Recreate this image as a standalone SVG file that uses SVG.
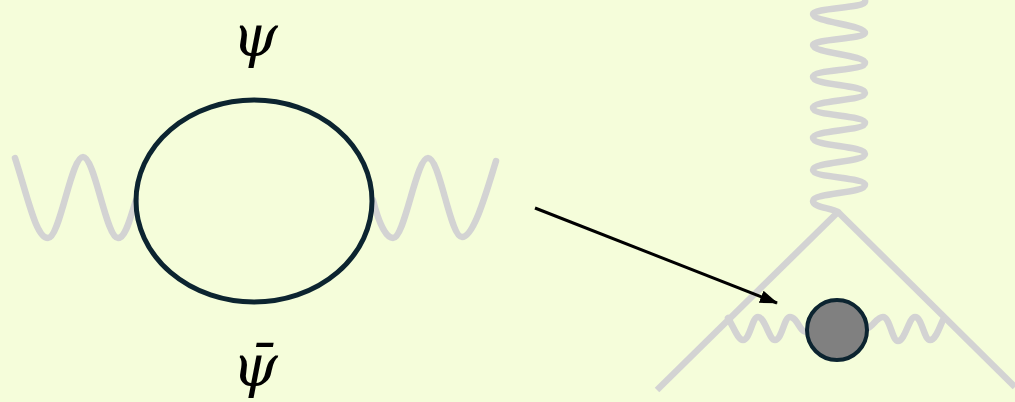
<svg xmlns="http://www.w3.org/2000/svg" width="1015" height="402" viewBox="0 0 1015 402">
<style>
.wave{fill:none;stroke:#D3D3D3;stroke-width:6.5;stroke-linecap:round;stroke-linejoin:round}
.line{fill:none;stroke:#D3D3D3;stroke-width:6.5}
.loop{fill:none;stroke:#0C2430;stroke-width:5}
.lbl{font-family:"DejaVu Serif","Liberation Serif",serif;font-style:italic;font-size:58px;fill:#000;text-anchor:middle}
</style>
<defs>
<marker id="ah" markerWidth="18" markerHeight="13" refX="17" refY="6.5" orient="auto" markerUnits="userSpaceOnUse">
<path d="M0,0 L18,6.5 L0,13 z" fill="#000"/>
</marker>
</defs>
<rect width="1015" height="402" fill="#F5FDDA"/>
<g id="connectors">
<path id="wave-left" class="wave" d="M15,158 C28,198 36,238 48,238 C60,238 71,157 83,157 C95,157 106,238 118,238 C126,238 131,215 136,200"/>
<path id="wave-right" class="wave" d="M373,200 C378,220 385,238 393,238 C405,238 416,158 428,158 C440,158 450,237 462,237 C474,237 487,190 496,161"/>
<path id="spring-top" class="wave" d="M862,-4 C866,-2 865,2 865,2 C865,8 813,8 813,14 C813,22 865,25 865,33 C865,39 813,39 813,45 C813,53 865,55 865,63 C865,71 813,69 813,77 C813,85 865,85 865,93 C865,101 813,100 813,108 C813,116 865,115 865,123 C865,131 813,130 813,138 C813,146 865,146 865,154 C865,162 813,162 813,170 C813,178 865,177 865,185 C865,193 813,193 813,201 C813,207 830,208 838,212"/>
<path id="leg-left" class="line" d="M838,212 L657,390"/>
<path id="leg-right" class="line" d="M838,212 L1015,387"/>
<path id="spring-bl" class="wave" d="M728,318 C734,328 738,340 743,340 C750,340 752,317 758,317 C765,317 769,340 775,340 C782,340 784,317 790,317 C797,317 800,332 806,332"/>
<path id="spring-br" class="wave" d="M868,328 C873,326 877,317 883,317 C890,317 892,341 898,341 C905,341 909,317 915,317 C922,317 924,340 930,340 C936,340 940,326 943,320"/>
<line id="arrow" x1="535" y1="208" x2="777" y2="303" stroke="#000" stroke-width="3" marker-end="url(#ah)"/>
</g>
<g id="loop">
<ellipse cx="254" cy="201" rx="118" ry="101" class="loop"/>
</g>
<g id="blob">
<circle cx="837" cy="330" r="30" fill="#808080" stroke="#0C2430" stroke-width="4"/>
</g>
<g id="label-psi">
<text class="lbl" x="255" y="56">ψ</text>
</g>
<g id="label-psibar">
<text class="lbl" x="255" y="386">ψ̄</text>
</g>
</svg>
